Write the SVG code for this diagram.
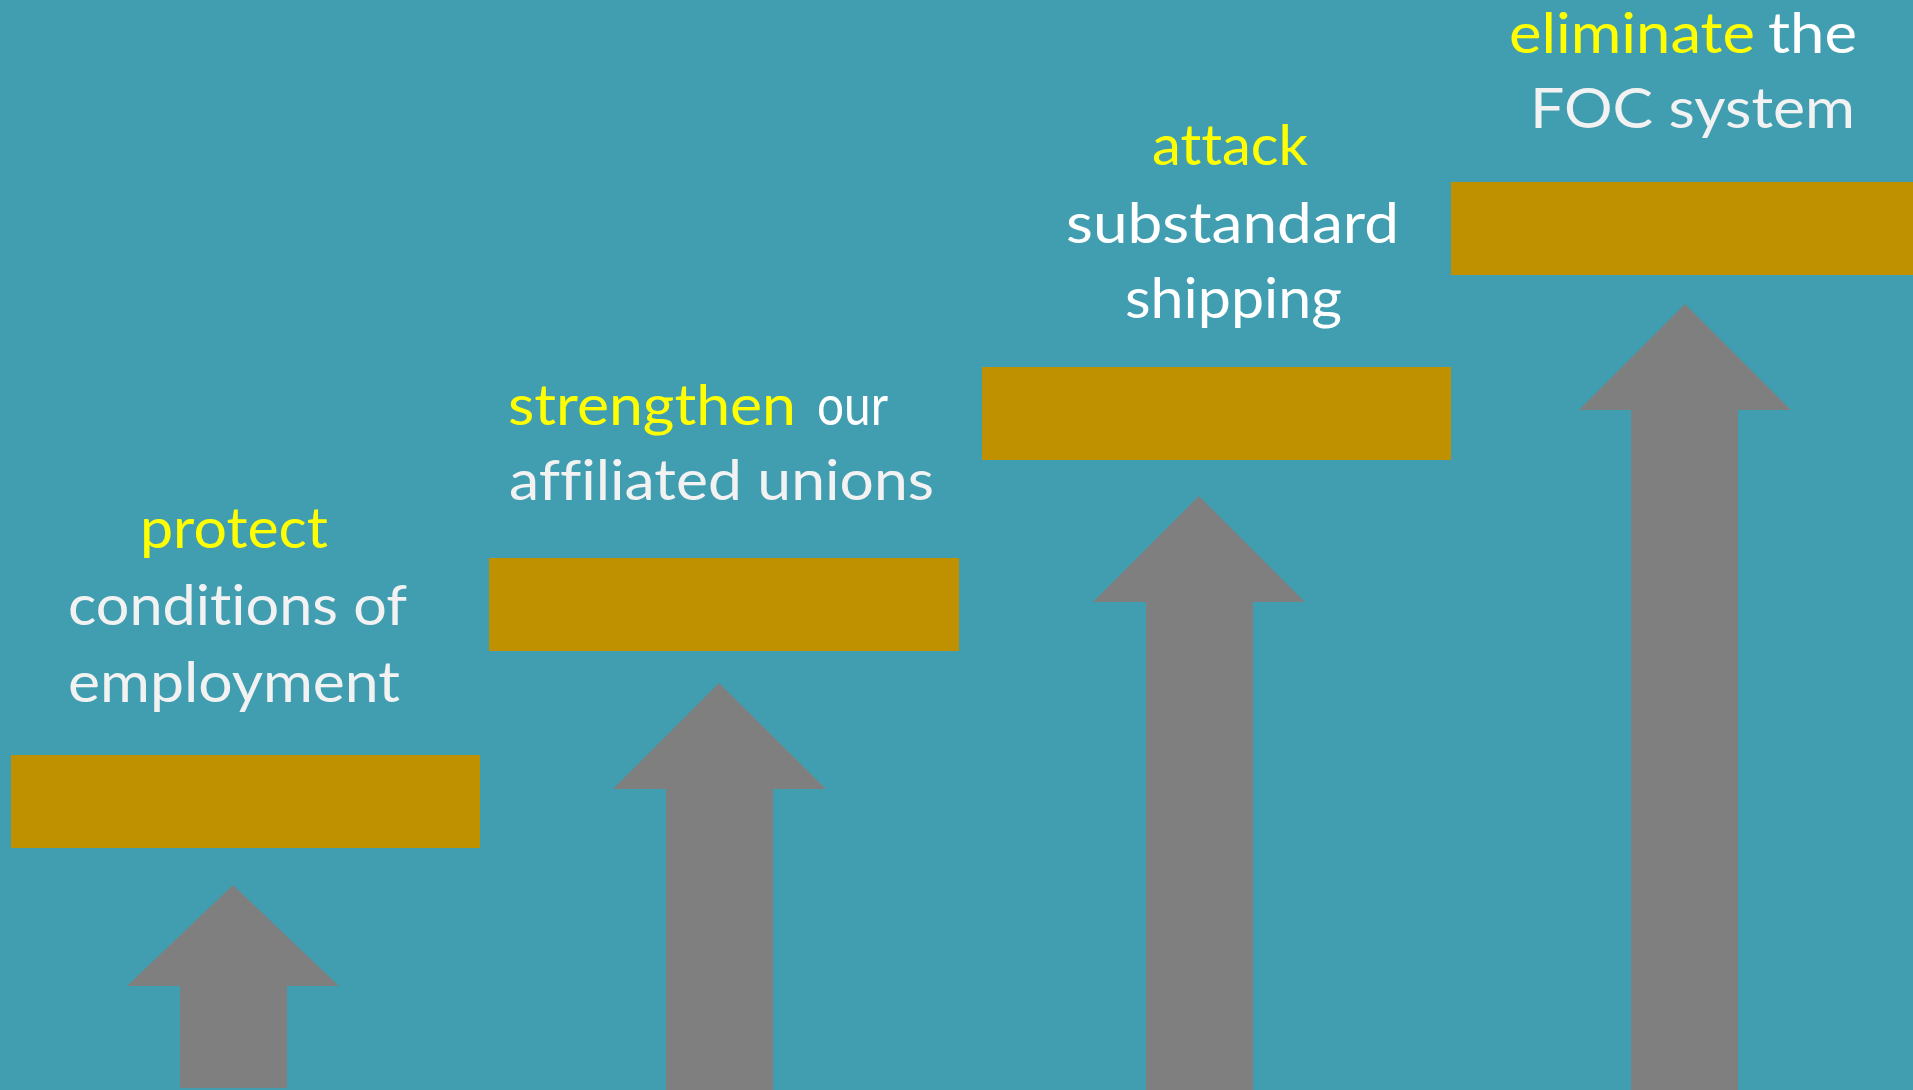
<svg xmlns="http://www.w3.org/2000/svg" width="1913" height="1090" viewBox="0 0 1913 1090">
<style>
.bar{fill:#BF9000}
.arr{fill:#7F7F7F}
text{font-family:Lato,"Open Sans","Liberation Sans",sans-serif;font-size:57px;font-variant-ligatures:none;font-feature-settings:"liga" 0}
.y{fill:#FFFF00}
.w{fill:#F2F2F2}
.ww{fill:#FFFFFF}
</style>
<rect x="0" y="0" width="1913" height="1090" fill="#419EB1"/>
<g id="step1">
<rect class="bar" x="11" y="755" width="469" height="93"/>
<path class="arr" d="M233,885 L339,986 L287,986 L287,1088 L180,1088 L180,986 L127,986 Z"/>
<text class="y" x="140" y="548" textLength="188" lengthAdjust="spacingAndGlyphs">protect</text>
<text class="w" x="68" y="625" textLength="339" lengthAdjust="spacingAndGlyphs">conditions of</text>
<text class="w" x="68" y="702" textLength="332" lengthAdjust="spacingAndGlyphs">employment</text>
</g>
<g id="step2">
<rect class="bar" x="489" y="558" width="470" height="93"/>
<path class="arr" d="M719,683 L826,789 L773,789 L773,1090 L666,1090 L666,789 L613,789 Z"/>
<text class="y" x="508" y="425" textLength="288" lengthAdjust="spacingAndGlyphs">strengthen</text>
<text class="ww" x="817" y="425" textLength="71" lengthAdjust="spacingAndGlyphs">our</text>
<text class="w" x="509" y="500" textLength="425" lengthAdjust="spacingAndGlyphs">affiliated unions</text>
</g>
<g id="step3">
<rect class="bar" x="982" y="367" width="469" height="93"/>
<path class="arr" d="M1199,496 L1305,602 L1253,602 L1253,1090 L1146,1090 L1146,602 L1093,602 Z"/>
<text class="y" x="1152" y="165" textLength="156" lengthAdjust="spacingAndGlyphs">attack</text>
<text class="ww" x="1066" y="243" textLength="333" lengthAdjust="spacingAndGlyphs">substandard</text>
<text class="ww" x="1125" y="318" textLength="217" lengthAdjust="spacingAndGlyphs">shipping</text>
</g>
<g id="step4">
<rect class="bar" x="1451" y="182" width="462" height="93"/>
<path class="arr" d="M1685,304 L1791,410 L1738,410 L1738,1090 L1631,1090 L1631,410 L1579,410 Z"/>
<text class="y" x="1509" y="53" textLength="246" lengthAdjust="spacingAndGlyphs">eliminate</text>
<text class="ww" x="1768" y="53" textLength="89" lengthAdjust="spacingAndGlyphs">the</text>
<text class="w" x="1530" y="128" textLength="325" lengthAdjust="spacingAndGlyphs">FOC system</text>
</g>
<g id="connectors"/>
</svg>
